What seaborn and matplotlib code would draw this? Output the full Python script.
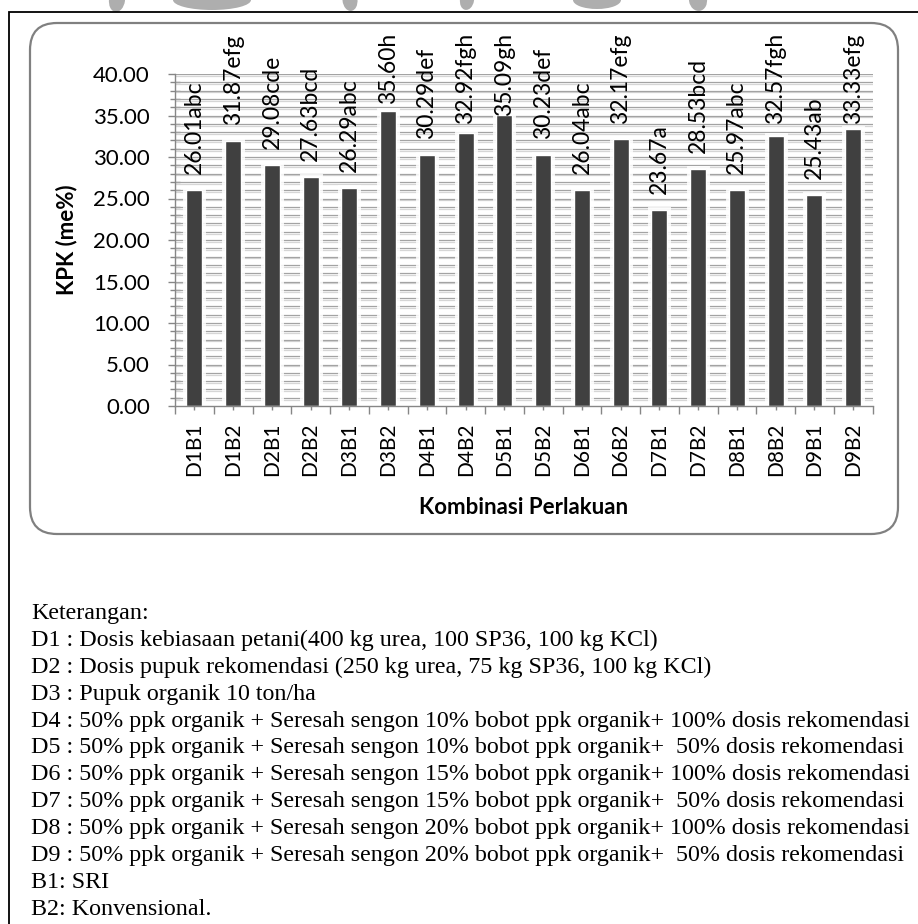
import numpy as np
import pandas as pd
import matplotlib
matplotlib.use("Agg")
import matplotlib.pyplot as plt
import seaborn as sns
from matplotlib import patheffects as pe
from matplotlib.patches import FancyBboxPatch, Ellipse
from matplotlib.ticker import MultipleLocator, FixedLocator, FormatStrFormatter

# ---- data -------------------------------------------------------------
categories = ["D1B1", "D1B2", "D2B1", "D2B2", "D3B1", "D3B2", "D4B1", "D4B2", "D5B1",
              "D5B2", "D6B1", "D6B2", "D7B1", "D7B2", "D8B1", "D8B2", "D9B1", "D9B2"]
kpk = [26.01, 31.87, 29.08, 27.63, 26.29, 35.60, 30.29, 32.92, 35.09,
       30.23, 26.04, 32.17, 23.67, 28.53, 25.97, 32.57, 25.43, 33.33]
notation = ["abc", "efg", "cde", "bcd", "abc", "h", "def", "fgh", "gh",
            "def", "abc", "efg", "a", "bcd", "abc", "fgh", "ab", "efg"]
ytick_values = [0, 5, 10, 15, 20, 25, 30, 35, 40]

notes = [
    "Keterangan:",
    "D1 : Dosis kebiasaan petani(400 kg urea, 100 SP36, 100 kg KCl)",
    "D2 : Dosis pupuk rekomendasi (250 kg urea, 75 kg SP36, 100 kg KCl)",
    "D3 : Pupuk organik 10 ton/ha",
    "D4 : 50% ppk organik + Seresah sengon 10% bobot ppk organik+ 100% dosis rekomendasi",
    "D5 : 50% ppk organik + Seresah sengon 10% bobot ppk organik+  50% dosis rekomendasi",
    "D6 : 50% ppk organik + Seresah sengon 15% bobot ppk organik+ 100% dosis rekomendasi",
    "D7 : 50% ppk organik + Seresah sengon 15% bobot ppk organik+  50% dosis rekomendasi",
    "D8 : 50% ppk organik + Seresah sengon 20% bobot ppk organik+ 100% dosis rekomendasi",
    "D9 : 50% ppk organik + Seresah sengon 20% bobot ppk organik+  50% dosis rekomendasi",
    "B1: SRI",
    "B2: Konvensional.",
]

# ---- style ------------------------------------------------------------
sns.set_theme(style="white")
plt.rcParams["font.family"] = ["Lato", "DejaVu Sans"]

W, H, DPI = 918, 924, 100
AXIS_GREY = "#868686"
BAR_COLOR = "#404040"

fig = plt.figure(figsize=(W / DPI, H / DPI), dpi=DPI)
fig.patch.set_facecolor("white")

# page layer, laid out in pixel units (origin top-left)
page = fig.add_axes([0, 0, 1, 1], zorder=0)
page.set_xlim(0, W)
page.set_ylim(H, 0)
page.axis("off")

# faint background logo fragments along the top edge
for (cx, cy, w, h, ang) in [(117, 0, 16, 24, 8), (212, 0, 78, 20, 0), (350, 0, 15, 22, -6),
                             (467, 0, 14, 20, 10), (597, 0, 48, 18, 0), (698, 0, 18, 22, -10)]:
    page.add_patch(Ellipse((cx, cy), w, h, angle=ang, facecolor="#a0a0a0",
                           edgecolor="none", alpha=0.85, zorder=0))

# outer page frame
page.plot([9, 9, W + 5], [H + 5, 12, 12], color="black", lw=1.3, zorder=1,
          solid_joinstyle="miter")

# rounded chart container
page.add_patch(FancyBboxPatch((30, 23), 868, 511,
                              boxstyle="round,pad=0,rounding_size=27",
                              facecolor="white", edgecolor="#808080", lw=1.6, zorder=1))

# ---- chart ------------------------------------------------------------
x0, x1, ytop, ybot = 175, 872.5, 74, 406
ax = fig.add_axes([x0 / W, 1 - ybot / H, (x1 - x0) / W, (ybot - ytop) / H], zorder=2)
ax.patch.set_alpha(0)

df = pd.DataFrame({"kombinasi": categories, "kpk": kpk})
sns.barplot(data=df, x="kombinasi", y="kpk", color=BAR_COLOR, saturation=1,
            width=0.41, errorbar=None, ax=ax, zorder=3)

for bar in ax.patches:
    bar.set_path_effects([pe.Stroke(linewidth=5, foreground=(1, 1, 1, 0.85)), pe.Normal()])

ax.set_xlim(-0.5, len(categories) - 0.5)
ax.set_ylim(0, 40)

# horizontal gridlines at every unit, with a soft shadow
ax.hlines(np.arange(1, 41), 0, 1, transform=ax.get_yaxis_transform(),
          colors="#a3a3a3", lw=0.9, zorder=1,
          path_effects=[pe.SimpleLineShadow(offset=(0, -1.3), shadow_color="#d6d6d6", alpha=1),
                        pe.Normal()])

for side in ["top", "right"]:
    ax.spines[side].set_visible(False)
for side in ["left", "bottom"]:
    ax.spines[side].set_color(AXIS_GREY)
    ax.spines[side].set_linewidth(1.0)
    ax.spines[side].set_zorder(4)

ax.yaxis.set_major_locator(FixedLocator(ytick_values))
ax.yaxis.set_major_formatter(FormatStrFormatter("%.2f"))
ax.yaxis.set_minor_locator(MultipleLocator(1))
ax.xaxis.set_minor_locator(FixedLocator(np.arange(-0.5, len(categories), 1.0)))

ax.tick_params(axis="y", which="major", left=True, direction="out", length=5, width=1,
               color=AXIS_GREY, pad=13, labelsize=16, labelcolor="black")
ax.tick_params(axis="y", which="minor", left=True, direction="inout", length=6.5, width=1,
               color=AXIS_GREY)
ax.tick_params(axis="x", which="major", bottom=True, direction="inout", length=6, width=1,
               color=AXIS_GREY, pad=9, labelsize=15, labelcolor="black", labelrotation=90)
ax.tick_params(axis="x", which="minor", bottom=True, direction="out", length=6, width=1,
               color=AXIS_GREY)

ax.set_ylabel("KPK (me%)", fontsize=16, fontweight="bold", color="black")
ax.yaxis.label.set_va("center")
ax.yaxis.set_label_coords((67 - x0) / (x1 - x0), 0.5)
ax.set_xlabel("Kombinasi Perlakuan", fontsize=16, fontweight="bold", color="black")
ax.xaxis.label.set_va("center")
ax.xaxis.set_label_coords(0.5, -(507 - ybot) / (ybot - ytop))

# value + notation labels above each bar
labels = []
for i, (v, n) in enumerate(zip(kpk, notation)):
    labels.append(ax.annotate(f"{v:.2f}{n}", xy=(i, v), xytext=(0, 16),
                              textcoords="offset pixels", rotation=90,
                              ha="center", va="bottom", fontsize=16.5,
                              color="black", zorder=5))

# legend notes in Times-like serif, sized to the widest line
note_objs = []
for k, line in enumerate(notes):
    note_objs.append(page.text(31, 619 + 26.9 * k, line, family="Liberation Serif",
                               fontsize=17, ha="left", va="baseline", color="black", zorder=2))

fig.canvas.draw()
widest = max(t.get_window_extent().width for t in note_objs)
scale = 877.0 / widest
for t in note_objs:
    t.set_fontsize(17 * scale)

# keep the bar labels inside the chart container
top_limit = H - 33
for a in labels:
    bb = a.get_window_extent()
    if bb.y1 > top_limit:
        a.xyann = (0, 16 - (bb.y1 - top_limit))

fig.savefig("out.png", dpi=DPI, facecolor="white")
